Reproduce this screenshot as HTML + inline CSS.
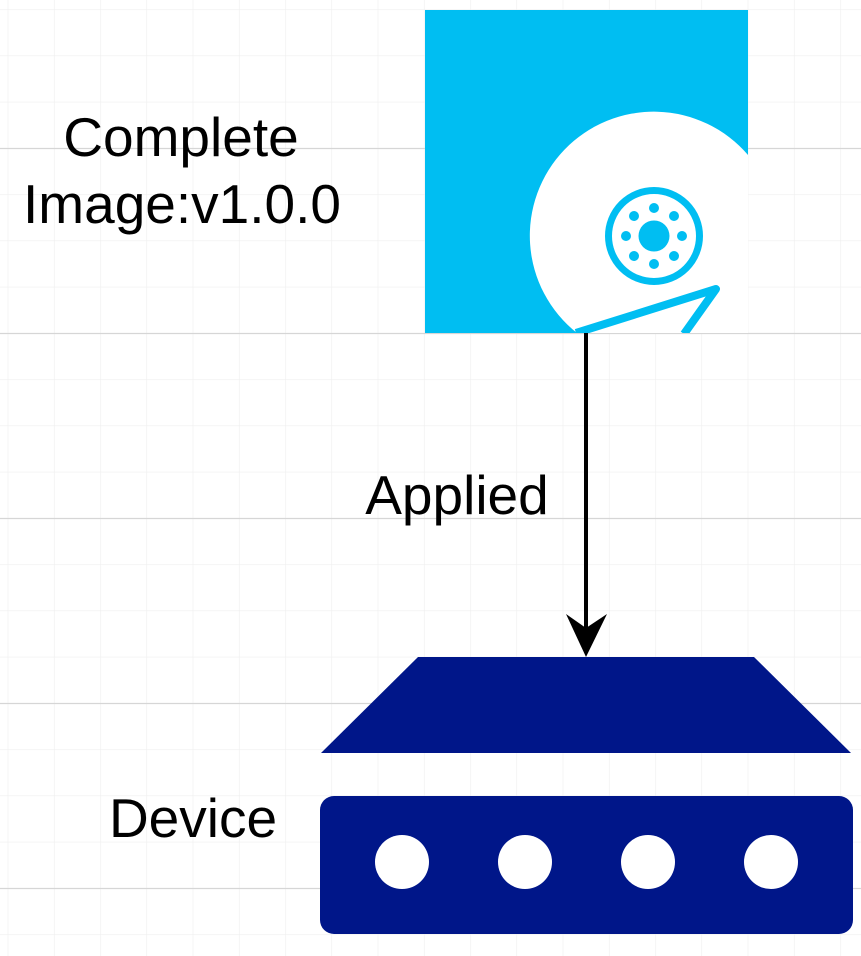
<!DOCTYPE html>
<html><head><meta charset="utf-8"><style>
html,body{margin:0;padding:0;background:#fff;}
svg{display:block;}
text{font-family:"Liberation Sans",Arial,sans-serif;fill:#000;}
</style></head><body>
<svg width="861" height="956" viewBox="0 0 861 956" xmlns="http://www.w3.org/2000/svg">
<defs>
<pattern id="g" x="7.7" y="9.25" width="46.25" height="46.25" patternUnits="userSpaceOnUse">
<path d="M0 0H46.25M0 0V46.25" stroke="#efefef" stroke-width="1.2" fill="none"/>
</pattern>
<clipPath id="sq"><rect x="425" y="10" width="323" height="323"/></clipPath>
</defs>
<rect width="861" height="956" fill="url(#g)"/>
<g stroke="#d6d6d6" stroke-width="1.2">
<line x1="0" y1="148.5" x2="861" y2="148.5"/>
<line x1="0" y1="333.5" x2="861" y2="333.5"/>
<line x1="0" y1="518.5" x2="861" y2="518.5"/>
<line x1="0" y1="703.5" x2="861" y2="703.5"/>
<line x1="0" y1="888.5" x2="861" y2="888.5"/>
</g>
<rect x="425" y="10" width="323" height="323" fill="#00bef2"/>
<g clip-path="url(#sq)">
<path d="M748,155 A124,124 0 1 0 577,333 L748,333 Z" fill="#fff"/>
<polyline points="576,333 716,289 684,334" fill="none" stroke="#00bef2" stroke-width="8" stroke-linejoin="round"/>
</g>
<circle cx="654" cy="236" r="45.5" fill="none" stroke="#00bef2" stroke-width="7"/>
<circle cx="654" cy="236" r="15.5" fill="#00bef2"/>
<g fill="#00bef2">
<circle cx="654" cy="208" r="5"/><circle cx="654" cy="264" r="5"/>
<circle cx="626" cy="236" r="5"/><circle cx="682" cy="236" r="5"/>
<circle cx="634" cy="216" r="5"/><circle cx="674" cy="216" r="5"/>
<circle cx="634" cy="256" r="5"/><circle cx="674" cy="256" r="5"/>
</g>
<line x1="586" y1="333" x2="586" y2="632" stroke="#000" stroke-width="4"/>
<polygon points="586,657 566,614 586,628 607,614" fill="#000"/>
<polygon points="418,657 754,657 851,753 321,753" fill="#001689"/>
<rect x="320" y="796" width="533" height="138" rx="14" fill="#001689"/>
<g fill="#fff">
<circle cx="402" cy="862" r="27"/><circle cx="525" cy="862" r="27"/>
<circle cx="648" cy="862" r="27"/><circle cx="771" cy="862" r="27"/>
</g>
<text x="181" y="156" font-size="55" text-anchor="middle">Complete</text>
<text x="182" y="223" font-size="55" text-anchor="middle">Image:v1.0.0</text>
<text x="457" y="514" font-size="55" text-anchor="middle">Applied</text>
<text x="193" y="837" font-size="55" text-anchor="middle">Device</text>
</svg>
</body></html>
